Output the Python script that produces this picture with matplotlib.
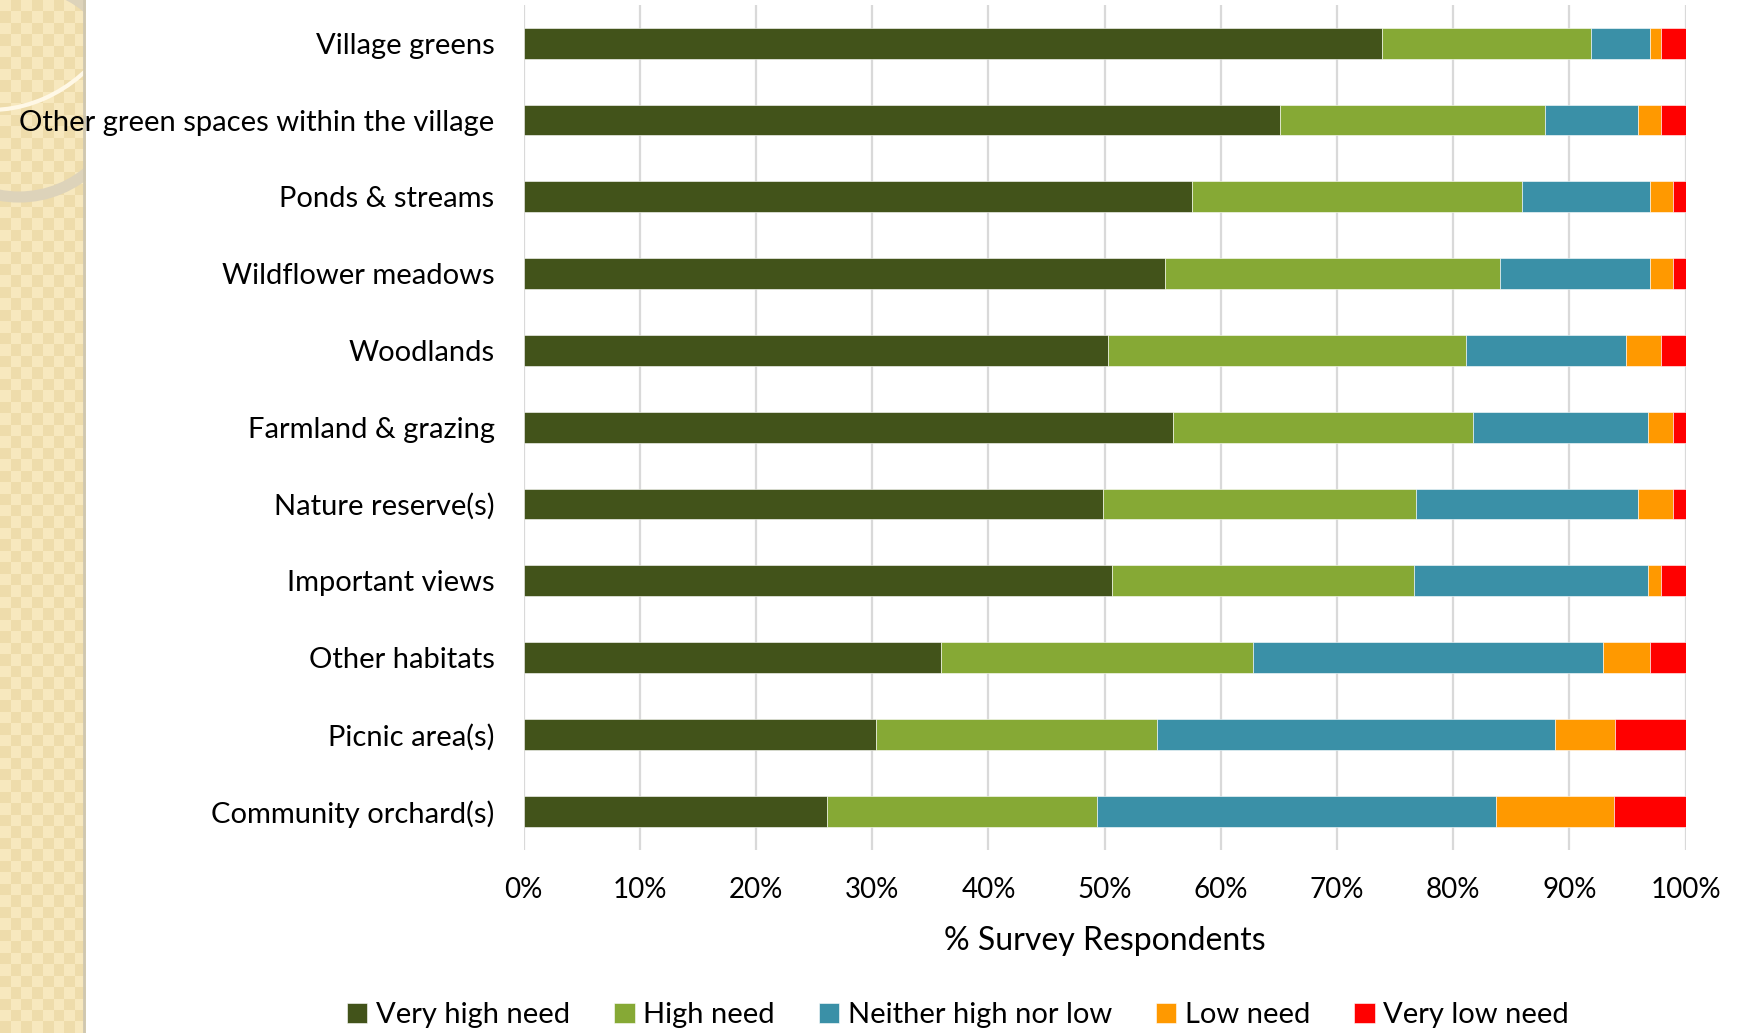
import numpy as np
import matplotlib
matplotlib.use("Agg")
import matplotlib.pyplot as plt
from matplotlib.patches import Circle, Arc

# data (percent of respondents)
categories = ["Village greens", "Other green spaces within the village", "Ponds & streams",
              "Wildflower meadows", "Woodlands", "Farmland & grazing", "Nature reserve(s)",
              "Important views", "Other habitats", "Picnic area(s)", "Community orchard(s)"]
very_high = [73.9, 65.1, 57.5, 55.2, 50.3, 55.9, 49.9, 50.6, 35.9, 30.3, 26.1]
high = [18.0, 22.8, 28.4, 28.8, 30.8, 25.8, 26.9, 26.0, 26.9, 24.2, 23.2]
neither = [5.0, 8.0, 11.0, 12.9, 13.8, 15.1, 19.1, 20.2, 30.1, 34.3, 34.4]
low = [1.0, 2.0, 2.0, 2.0, 3.0, 2.1, 3.0, 1.1, 4.0, 5.1, 10.1]
very_low = [2.1, 2.1, 1.1, 1.1, 2.1, 1.1, 1.1, 2.1, 3.1, 6.1, 6.2]
series_names = ["Very high need", "High need", "Neither high nor low", "Low need", "Very low need"]
colors = ["#42531A", "#86A935", "#3A90A7", "#FF9900", "#FF0000"]
xticks = list(range(0, 101, 10))

plt.rcParams['font.family'] = ['Lato', 'DejaVu Sans']

fig = plt.figure(figsize=(17.4, 10.33), dpi=100)

# decorative strip on the left
deco = fig.add_axes([0, 0, 86 / 1740, 1])
nx, ny = 8, 90
yy, xx = np.mgrid[0:ny, 0:nx]
checker = ((xx + yy) % 2).astype(float)
deco.imshow(checker, cmap=matplotlib.colors.ListedColormap(["#F7E8BE", "#EEDCAB"]),
            extent=[0, 86, 1033, 0], aspect="auto", interpolation="nearest")
deco.add_patch(Circle((19, 90), 107, fill=False, edgecolor="#DDD3BA", linewidth=8))
deco.add_patch(Arc((-10, -60), 300, 340, theta1=40, theta2=100, edgecolor="#FFF8E6", linewidth=3))
deco.plot([84.5, 84.5], [0, 1033], color="#CFC7B0", linewidth=2)
deco.set_xlim(0, 86)
deco.set_ylim(1033, 0)
deco.axis("off")

ax = fig.add_axes([0.301, 0.1775, 0.9687 - 0.301, 0.9953 - 0.1775])
y = np.arange(len(categories))
left = np.zeros(len(categories))
for vals, name, col in zip([very_high, high, neither, low, very_low], series_names, colors):
    ax.barh(y, vals, left=left, height=0.4, color=col, label=name,
            edgecolor="white", linewidth=0.4, zorder=3)
    left += np.array(vals)

ax.set_ylim(len(categories) - 0.5, -0.5)
ax.set_xlim(0, 100)
ax.set_xticks(xticks)
ax.set_xticklabels([f"{t}%" for t in xticks], fontsize=20)
ax.set_yticks(y)
ax.set_yticklabels(categories, fontsize=21)
ax.tick_params(axis="both", length=0)
ax.tick_params(axis="y", pad=21)
ax.tick_params(axis="x", pad=20)
ax.grid(axis="x", color="#D9D9D9", linewidth=1.6, zorder=0)
for s in ax.spines.values():
    s.set_visible(False)
ax.set_xlabel("% Survey Respondents", fontsize=23, labelpad=16)

handles, labels = ax.get_legend_handles_labels()
fig.legend(handles, labels, loc="center", bbox_to_anchor=(0.5506, 0.0174), ncol=5,
           frameon=False, fontsize=21, handlelength=0.7, handleheight=0.7,
           handletextpad=0.3, columnspacing=1.5)

fig.savefig("out.png", dpi=100)
